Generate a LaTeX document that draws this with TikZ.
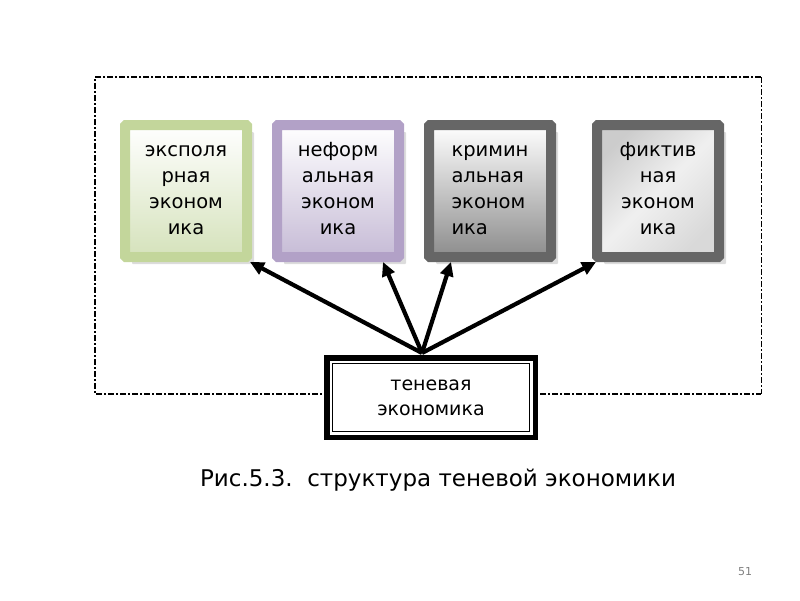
\documentclass[tikz,border=0pt]{standalone}
\usepackage{fontspec}
\setmainfont{DejaVu Sans}
\usetikzlibrary{positioning}
\usetikzlibrary{arrows.meta}
\usetikzlibrary{calc, shadows}
\definecolor{exBorder}{RGB}{195,214,155}
\definecolor{exFill}{RGB}{213,226,187}
\definecolor{infBorder}{RGB}{178,161,199}
\definecolor{infFill}{RGB}{198,187,214}
\definecolor{darkBorder}{RGB}{102,102,102}
\definecolor{crimFill}{RGB}{140,140,140}
\tikzset{%
	% Specifications for style of nodes:
	base/.style = {rectangle, rounded corners=1pt, line width=10pt,
		minimum width=122pt, minimum height=132pt, inner sep=0pt,
		align=center, font=\fontsize{19.5}{26}\selectfont,
		text height=92pt, text depth=5pt,
		drop shadow={shadow xshift=7pt, shadow yshift=-7pt, fill=gray!55}},
	exBox/.style = {base, draw=exBorder, top color=white, bottom color=exFill},
	infBox/.style = {base, draw=infBorder, top color=white, bottom color=infFill},
	crimBox/.style = {base, draw=darkBorder, top color=white, bottom color=crimFill, align=left},
	fictBox/.style = {base, draw=darkBorder, top color=gray!40, bottom color=gray!30,
		middle color=gray!12, shading angle=45},
	mainBox/.style = {rectangle, draw=black, fill=white, line width=5.5pt,
		minimum width=208.5pt, minimum height=79.5pt, align=center,
		font=\fontsize{19}{25}\selectfont},
	outerFrame/.style = {draw=black, line width=2pt, dash pattern=on 6pt off 2pt on 2pt off 2pt},
	arrowLine/.style = {line width=4.2pt, -{Triangle[length=14pt, width=13pt]}}
}
\begin{document}
\begin{tikzpicture}[x=1pt, y=-1pt]
	\useasboundingbox (0,0) rectangle (800,600);
	%% Frame
	\draw[outerFrame] (761,77) -- (95,77) -- (95,394) -- (761,394);
	\draw[outerFrame, line width=1pt] (761,77) -- (761,394);
	%% Kinds of economy
	\node[exBox] (exEcon) at (186,191) {эксполя\\рная\\эконом\\ика};
	\node[infBox, right=20pt of exEcon] (infEcon) {неформ\\альная\\эконом\\ика};
	\node[crimBox, right=20pt of infEcon] (crimEcon) {кримин\\альная\\эконом\\ика};
	\node[fictBox, right=36pt of crimEcon] (fictEcon) {фиктив\\ная\\эконом\\ика};
	%% Shadow economy
	\node[mainBox] (shadowEcon) at (431,397.5) {теневая\\экономика};
	\draw[line width=1.8pt] ([shift={(8.5pt,-8.5pt)}]shadowEcon.north west) rectangle ([shift={(-8.5pt,8.5pt)}]shadowEcon.south east);
	\coordinate[xshift=-9pt, yshift=2pt] (hub) at (shadowEcon.north);
	%% arrows
	\draw[arrowLine] (hub) -- ([xshift=-2pt]exEcon.south east);
	\draw[arrowLine] (hub) -- ([xshift=-21pt]infEcon.south east);
	\draw[arrowLine] (hub) -- ([xshift=27pt]crimEcon.south west);
	\draw[arrowLine] (hub) -- ([xshift=4pt]fictEcon.south west);
	%% caption
	\node[font=\fontsize{23}{28}\selectfont] (caption) at (438,480) {Рис.5.3.\ \ структура теневой экономики};
	\node[font=\fontsize{11}{13}\selectfont, text=gray] (pageNum) at (745,572) {51};
\end{tikzpicture}
\end{document}
